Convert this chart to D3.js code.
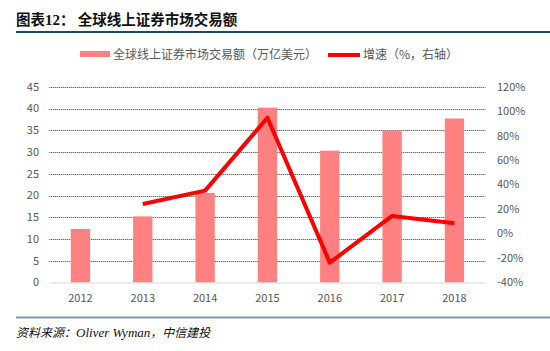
<!DOCTYPE html>
<html>
<head>
<meta charset="utf-8">
<script src="https://cdn.jsdelivr.net/npm/d3@7/dist/d3.min.js"></script>
<style>
  body { margin: 0; background: #fff; }
  text { font-family: "Noto Sans CJK SC", "DejaVu Sans", sans-serif; }
</style>
</head>
<body>
<script>
// 全球线上证券市场交易额 + 增速

let years = ['2012', '2013', '2014', '2015', '2016', '2017', '2018']
let volume = [12.3, 15.2, 20.6, 40.2, 30.3, 34.9, 37.7]   // 万亿美元
let growth = [null, 24.2, 35.1, 94.7, -23.8, 14.4, 8.4]   // %
let leftTicks = [0, 5, 10, 15, 20, 25, 30, 35, 40, 45]
let rightTicks = [-40, -20, 0, 20, 40, 60, 80, 100, 120]

let W = 550
let H = 351
let plot = {left: 49.3, right: 485.6, top: 86.75, bottom: 282.5}

let svg = d3.select('body').append('svg')
  .attr('width', W)
  .attr('height', H)

// 标题
let title = svg.append('text')
  .attr('x', 16).attr('y', 25)
  .attr('font-size', 14.5)
  .attr('font-weight', 'bold')
  .attr('fill', '#111')
title.append('tspan').text('图表')
title.append('tspan').style('font-family', '"Liberation Serif", serif').attr('font-size', 15).text('12')
title.append('tspan').text('：  全球线上证券市场交易额')
svg.append('line')
  .attr('x1', 16).attr('x2', W)
  .attr('y1', 32).attr('y2', 32)
  .style('stroke', '#1b4a6e')
  .style('stroke-width', 2)

// 比例尺
let x = d3.scaleBand().domain(years).range([plot.left, plot.right]).paddingInner(0.69).paddingOuter(0.345)
let yL = d3.scaleLinear().domain([0, 45]).range([plot.bottom, plot.top])
let yR = d3.scaleLinear().domain([-40, 120]).range([plot.bottom, plot.top])

// 网格线(虚线)
svg.append('g').selectAll('line')
  .data(leftTicks.filter(d => d > 0))
  .enter().append('line')
  .attr('x1', plot.left).attr('x2', plot.right)
  .attr('y1', d => Math.round(yL(d)) + 0.5)
  .attr('y2', d => Math.round(yL(d)) + 0.5)
  .style('stroke', '#333')
  .style('stroke-width', 1)
  .style('stroke-dasharray', '1,1')

// 柱子
svg.append('g').selectAll('rect')
  .data(years)
  .enter().append('rect')
  .attr('x', d => x(d))
  .attr('width', x.bandwidth())
  .attr('y', (d, i) => yL(volume[i]))
  .attr('height', (d, i) => yL(0) - yL(volume[i]))
  .style('fill', '#ff8080')

// 零线
svg.append('line')
  .attr('x1', plot.left).attr('x2', plot.right)
  .attr('y1', yL(0) + 0.5).attr('y2', yL(0) + 0.5)
  .style('stroke', '#d9d9d9')
  .style('stroke-width', 1)

// 增速折线
let line = d3.line()
  .defined(d => d[1] !== null)
  .x(d => x(d[0]) + x.bandwidth() / 2)
  .y(d => yR(d[1]))
svg.append('path')
  .datum(years.map((d, i) => [d, growth[i]]))
  .attr('d', line)
  .style('fill', 'none')
  .style('stroke', '#ff0000')
  .style('stroke-width', 4)
  .style('stroke-linejoin', 'round')

// 坐标轴文字
svg.append('g').selectAll('text')
  .data(leftTicks)
  .enter().append('text')
  .attr('x', 39).attr('y', d => yL(d))
  .attr('dy', '0.35em')
  .attr('text-anchor', 'end')
  .attr('font-size', 11)
  .attr('fill', '#595959')
  .text(d => d)
svg.append('g').selectAll('text')
  .data(rightTicks)
  .enter().append('text')
  .attr('x', 497).attr('y', d => yR(d))
  .attr('dy', '0.35em')
  .attr('font-size', 11)
  .attr('fill', '#595959')
  .text(d => d + '%')
svg.append('g').selectAll('text')
  .data(years)
  .enter().append('text')
  .attr('x', d => x(d) + x.bandwidth() / 2)
  .attr('y', 298)
  .attr('dy', '0.35em')
  .attr('text-anchor', 'middle')
  .attr('font-size', 11)
  .attr('fill', '#595959')
  .text(d => d)

// 图例
svg.append('rect')
  .attr('x', 80).attr('y', 51).attr('width', 30).attr('height', 6)
  .style('fill', '#ff8080')
svg.append('text')
  .attr('x', 113).attr('y', 54.5).attr('dy', '0.35em')
  .attr('font-size', 12).attr('fill', '#595959')
  .text('全球线上证券市场交易额（万亿美元）')
svg.append('line')
  .attr('x1', 328).attr('x2', 360).attr('y1', 55).attr('y2', 55)
  .style('stroke', '#ff0000').style('stroke-width', 4)
svg.append('text')
  .attr('x', 363).attr('y', 54.5).attr('dy', '0.35em')
  .attr('font-size', 12).attr('fill', '#595959')
  .text('增速（%，右轴）')

// 资料来源
svg.append('line')
  .attr('x1', 16).attr('x2', W)
  .attr('y1', 317.5).attr('y2', 317.5)
  .style('stroke', '#7a97a8')
  .style('stroke-width', 2)
let src = svg.append('text')
  .attr('x', 16).attr('y', 333).attr('dy', '0.35em')
  .attr('font-size', 12)
  .attr('font-style', 'italic')
  .attr('fill', '#111')
src.append('tspan').text('资料来源：')
src.append('tspan').style('font-family', '"Liberation Serif", serif').attr('font-size', 13).text('Oliver Wyman')
src.append('tspan').text('，中信建投')
</script>
</body>
</html>
